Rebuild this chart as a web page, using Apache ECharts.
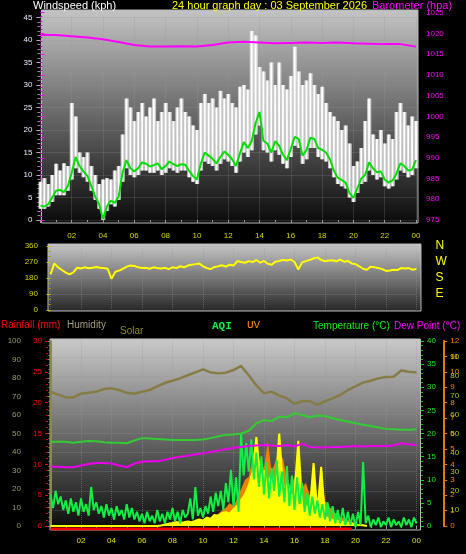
<!DOCTYPE html>
<html><head><meta charset="utf-8">
<script src="https://cdn.jsdelivr.net/npm/echarts@6/dist/echarts.min.js"></script>
<style>html,body{margin:0;padding:0;background:#000;}#c{width:466px;height:554px;}</style>
</head><body><div id="c"></div>
<script>
// ---------- tick labels ----------
const xTickLabels = ['', '02', '04', '06', '08', '10', '12', '14', '16', '18', '20', '22', '00'];
const compassLabels = ['', 'E', 'S', 'W', 'N'];

// ---------- top panel: 15-minute samples (00:00 .. 24:00) ----------
const windAvg = [
  3.2, 3.0, 3.5, 5.0,   6.5, 6.7, 6.2, 7.5,   10.5, 14.0, 12.0, 10.8,  9.8, 7.6, 5.2, 3.5,
  0.2, 3.0, 4.3, 3.8,   5.2, 10.5, 13.3, 11.5, 10.8, 11.5, 12.8, 12.5, 11.9, 12.2, 12.6, 11.3,
  12.0, 13.0, 12.4, 12.0, 12.4, 12.3, 10.9, 9.8, 9.0, 12.5, 15.0, 14.3, 13.6, 12.6, 14.0, 15.2,
  14.5, 13.5, 12.0, 14.8, 17.3, 16.0, 17.5, 21.5, 24.0, 17.6, 17.0, 15.0, 17.5, 16.5, 14.5, 13.3,
  15.8, 18.5, 18.0, 14.3, 15.5, 18.3, 18.0, 16.0, 15.6, 15.0, 13.5, 11.0, 9.4, 8.9, 8.3, 6.0,
  4.9, 7.0, 9.2, 10.0,  12.8, 11.5, 10.6, 10.8, 9.0, 8.3, 8.8, 10.3,  12.6, 12.0, 11.0, 11.2,
  13.3
];
const gustHigh = [
  8.5, 9.3, 8.0, 10.0,  12.5, 11.0, 12.6, 12.0, 26.0, 23.0, 15.0, 14.0, 15.0, 12.0, 10.0, 8.0,
  9.0, 9.3, 9.0, 11.0,  12.0, 19.0, 27.0, 25.0, 22.0, 24.0, 26.0, 23.0, 25.0, 27.0, 22.0, 24.0,
  26.0, 24.0, 22.0, 25.0, 27.0, 24.0, 23.0, 21.0, 20.0, 26.0, 28.0, 26.0, 27.0, 25.0, 28.7, 27.0,
  28.0, 26.0, 25.0, 29.6, 30.0, 29.0, 42.0, 41.0, 34.0, 33.0, 31.0, 35.0, 30.0, 35.0, 30.0, 29.0,
  32.0, 38.5, 33.0, 30.0, 31.0, 32.6, 30.0, 28.0, 29.6, 26.0, 24.0, 23.0, 22.0, 20.0, 21.0, 17.0,
  12.0, 13.0, 16.0, 22.0, 27.0, 19.0, 18.0, 20.0, 17.0, 19.0, 18.0, 24.0, 26.0, 24.0, 21.0, 23.0,
  22.0
];
const gustLow = [
  2.5, 2.5, 3.0, 4.0,   5.5, 5.5, 5.5, 6.5,   9.0, 11.5, 10.5, 9.5,   8.5, 6.5, 4.5, 2.5,
  0.0, 2.0, 3.5, 3.0,   4.5, 8.5, 11.5, 10.0,  9.5, 10.0, 11.0, 11.0, 10.5, 10.5, 11.0, 10.0,
  10.5, 11.5, 11.0, 10.5, 11.0, 11.0, 9.5, 8.5, 8.0, 11.0, 13.0, 12.5, 12.0, 11.0, 12.5, 13.5,
  13.0, 12.0, 10.5, 13.0, 15.0, 14.0, 15.5, 19.0, 21.0, 15.5, 15.0, 13.0, 15.5, 14.5, 12.5, 11.5,
  14.0, 16.5, 16.0, 12.5, 13.5, 16.0, 16.0, 14.0, 13.5, 13.0, 11.5, 9.5,  8.0, 7.5, 7.0, 5.0,
  4.0, 6.0, 8.0, 8.5,   11.0, 10.0, 9.0, 9.5,  7.5, 7.0, 7.5, 9.0,    11.0, 10.5, 9.5, 10.0,
  11.5
];
// hourly barometer (hPa)
const baro = [1019.6, 1019.6, 1019.3, 1019.0, 1018.6, 1017.9, 1017.2, 1016.8, 1016.8, 1016.9,
  1016.8, 1017.2, 1017.8, 1018.0, 1017.8, 1017.6, 1017.7, 1017.8, 1017.7, 1017.8,
  1017.6, 1017.5, 1017.4, 1017.4, 1016.8];

// ---------- middle panel: wind direction, 15-minute samples ----------
const windDir = [
  200, 262, 240, 225,  210, 200, 212, 238,  234, 240, 235, 238,  242, 238, 236, 232,
  175, 215, 222, 232,  244, 250, 248, 240,  236, 238, 232, 240,  236, 233, 238, 230,
  240, 236, 246, 240,  250, 255, 258, 262,  246, 236, 230, 242,  246, 252, 244, 255,
  250, 275, 270, 266,  275, 270, 281, 266,  276, 260, 255, 272,  276, 282, 278, 284,
  270, 228, 268, 275,  282, 290, 296, 282,  274, 278, 280, 274,  284, 272, 276, 262,
  258, 245, 232, 226,  244, 240, 236, 230,  220, 222, 226, 225,  236, 234, 236, 226,
  232
];

// ---------- bottom panel ----------
// 30-minute samples
const humidity = [72.5, 71, 69.5, 69.5, 71.5, 72, 72.6, 74, 74.4, 73.5, 72, 71.5, 72.6, 73.5,
  75.5, 77.3, 78.5, 79.8, 81.5, 83, 84.7, 83, 82.5, 82.9, 84.3, 86.5, 81.5, 76, 71.7, 72.6,
  70.5, 69, 66, 67.5, 67.5, 65.5, 67.5, 69, 70.8, 73.5, 75.5, 77.5, 78.5, 79.8, 80.5, 80.7,
  84, 83.4, 83];
const temperature = [18.2, 18.2, 18.2, 18.0, 18.2, 18.4, 18.3, 18.1, 18.0, 18.0, 17.9, 18.5,
  19.0, 18.9, 18.8, 18.7, 18.6, 18.6, 18.6, 18.6, 18.7, 19.0, 19.4, 19.7, 19.8, 20.0, 20.6,
  22.2, 22.9, 22.7, 23.6, 23.5, 24.4, 24.0, 23.5, 23.9, 23.8, 23.3, 22.9, 22.6, 22.2, 21.9,
  21.6, 21.3, 21.0, 20.9, 20.8, 20.8, 20.9];
const dewPoint = [12.8, 12.8, 12.7, 12.7, 13.1, 13.4, 13.6, 13.6, 13.5, 13.1, 12.7, 13.5, 13.9,
  14.0, 14.0, 14.3, 14.7, 15.0, 15.2, 15.5, 15.7, 16.0, 16.3, 16.6, 16.9, 17.1, 17.3, 17.4,
  17.5, 17.4, 17.3, 17.5, 17.2, 17.8, 17.1, 17.0, 17.0, 17.1, 17.1, 17.2, 17.3, 17.2, 17.3,
  17.3, 17.3, 17.4, 17.9, 17.7, 17.5];
// 10-minute samples
const aqi = [
  18, 11, 20, 13, 17, 10,   15, 8, 16, 9, 14, 7,     16, 9, 13, 7, 22, 10,
  14, 8, 12, 6, 13, 7,      11, 5, 12, 7, 10, 5,     13, 6, 11, 5, 9, 4,
  8, 3, 9, 4, 7, 3,         10, 4, 8, 3, 9, 5,       11, 4, 9, 3, 10, 6,
  8, 16, 5, 22, 7, 11,      6, 12, 8, 17, 9, 19,     12, 20, 10, 24, 14, 31,
  12, 27, 9, 50, 28, 45,    30, 47, 26, 40, 22, 38,  18, 35, 16, 32, 20, 36,
  17, 30, 14, 33, 12, 28,   10, 27, 13, 24, 9, 19,   7, 17, 8, 15, 6, 13,
  5, 14, 4, 12, 3, 10,      3, 11, 2, 9, 2, 8,       1, 9, 2, 35, 3, 7,
  1, 5, 2, 6, 1, 4,         2, 6, 1, 5, 2, 4,        1, 6, 2, 5, 1, 6,
  3
];
// 15-minute samples
const solar = [
  0, 0, 0, 0,  0, 0, 0, 0,  0, 0, 0, 0,  0, 0, 0, 0,  0, 0, 0, 0,  0, 0, 0, 0,  0, 0, 0, 0,
  0, 3, 8, 12,  16, 22, 18, 20,  24, 20, 28, 35,  30, 45, 40, 60,  55, 70, 75, 65,
  90, 110, 140, 170,  220, 290, 480, 260,  300, 240, 270, 220,  500, 200, 230, 160,
  180, 460, 120, 110,  90, 340, 70, 320,  50, 40, 35, 30,  25, 20, 16, 12,  8, 6, 4, 0,
  null, null, null, null, null, null, null, null, null, null, null, null, null
];
const uv = [
  0, 0, 0, 0,  0, 0, 0, 0,  0, 0, 0, 0,  0, 0, 0, 0,  0, 0, 0, 0,  0, 0, 0, 0,
  0, 0, 0, 0,  0, 0, 0, 0,  0, 0, 0, 0,  0, 0, 0.2, 0.4,
  0.3, 0.5, 0.4, 0.6,  0.8, 1.0, 1.2, 1.5,  1.3, 1.8, 2.4, 3.0,  3.2, 4.5, 5.6, 4.0,
  3.8, 5.5, 3.5, 4.2,  4.5, 4.4, 3.0, 2.6,  3.2, 3.5, 2.5, 2.8,  2.0, 2.6, 1.8, 3.4,
  1.6, 1.3, 1.0, 0.8,  0.6, 0.5, 0.4, 0.3,  0.2, 0.1, 0.1, 0,
  null, null, null, null, null, null, null, null, null, null, null, null, null
];
const rainfall = [
  0, 0, 0, 0,  0, 0, 0, 0,  0, 0, 0, 0,  0, 0, 0, 0,  0, 0, 0, 0,  0, 0, 0, 0,  0, 0, 0, 0,
  0, 0, 0, 0,  0, 0, 0, 0,  0, 0, 0, 0,  0, 0, 0, 0,  0, 0, 0, 0,  0, 0, 0, 0,  0, 0, 0, 0,
  0, 0, 0, 0,  0, 0, 0, 0,  0, 0, 0, 0,  0, 0, 0, 0,  0, 0, 0, 0,  0, 0, 0, 0,
  null, null, null, null, null, null, null, null, null, null, null, null, null
];

// ---------- build ----------
const at = (arr, stepH) => arr.map((v, i) => [i * stepH, v]);
const FONT = 'Liberation Sans, Arial, sans-serif';
const MONO = 'Liberation Mono, DejaVu Sans Mono, monospace';
const LBL = 8;

function bgRect(x, y, w, h, c0, c1) {
  return {
    type: 'rect', z: -10, silent: true,
    shape: { x, y, width: w, height: h },
    style: {
      fill: new echarts.graphic.LinearGradient(0, 0, 0, 1, [{ offset: 0, color: c0 }, { offset: 1, color: c1 }]),
      stroke: '#b8b8b8', lineWidth: 1
    }
  };
}
function txt(s, x, y, color, font) {
  return { type: 'text', z: 10, x, y, style: { text: s, fill: color, font: font || ('10px ' + FONT), textVerticalAlign: 'middle' } };
}
const grid = { type: 'dotted', color: 'rgba(150,150,150,0.45)', width: 1 };
const hidX = (gi) => ({ gridIndex: gi, type: 'value', min: 0, max: 24, show: false });

const chart = echarts.init(document.getElementById('c'), null, { renderer: 'canvas' });
chart.setOption({
  backgroundColor: '#000000',
  animation: false,
  graphic: [
    bgRect(41.5, 10, 376.5, 213, '#c4c4c4', '#0a0a0a'),
    bgRect(48, 244, 373, 67, '#c8c8c8', '#262626'),
    bgRect(50, 339, 370.5, 191, '#cacaca', '#0a0a0a'),
    txt('Windspeed (kph)', 33, 5.5, '#ffffff', '11px ' + FONT),
    txt('24 hour graph day : 03 September 2026', 172, 5.5, '#ffff00', '11px ' + FONT),
    txt('Barometer (hpa)', 372, 5.5, '#ff00ff', '11px ' + FONT),
    txt('Rainfall (mm)', 1, 325.5, '#ff0000'),
    txt('Humidity', 67, 325.5, '#a39d7c'),
    txt('Solar', 120, 331, '#8c8c2e'),
    txt('AQI', 212, 326, '#11ee44', 'bold 11px ' + MONO),
    txt('UV', 247, 325.5, '#ff8a1a', '11px ' + MONO),
    txt('Temperature (°C)', 313, 326, '#11ee11'),
    txt('Dew Point (°C)', 394, 326, '#ff00ff')
  ],
  grid: [
    { left: 40.4, top: 17.5, width: 375.6, height: 202.5, outerBoundsMode: 'none' },
    { left: 40.4, top: 12.6, width: 375.6, height: 207.4, outerBoundsMode: 'none' },
    { left: 50.5, top: 246, width: 366, height: 64, outerBoundsMode: 'none' },
    { left: 50.5, top: 341, width: 366, height: 185, outerBoundsMode: 'none' },
    { left: 50.5, top: 338, width: 366, height: 191, outerBoundsMode: 'none' }
  ],
  xAxis: [
    { gridIndex: 0, type: 'value', min: 0, max: 24, interval: 2, offset: 2.5,
      axisLine: { show: false },
      axisTick: { show: true, length: 3, lineStyle: { color: '#9a9a9a' } },
      minorTick: { show: true, splitNumber: 2, length: 2, lineStyle: { color: '#9a9a9a' } },
      axisLabel: { color: '#d6d600', fontSize: LBL, fontFamily: FONT, margin: 9, formatter: v => xTickLabels[v / 2] },
      splitLine: { show: true, lineStyle: grid } },
    hidX(1),
    { gridIndex: 2, type: 'value', min: 0, max: 24, interval: 2,
      axisLine: { show: false }, axisTick: { show: false }, axisLabel: { show: false },
      splitLine: { show: true, lineStyle: grid } },
    { gridIndex: 3, type: 'value', min: 0, max: 24, interval: 2, offset: 4,
      axisLine: { show: false },
      axisTick: { show: true, length: 3, lineStyle: { color: '#9a9a9a' } },
      minorTick: { show: true, splitNumber: 2, length: 2, lineStyle: { color: '#9a9a9a' } },
      axisLabel: { color: '#e0e000', fontSize: LBL, fontFamily: FONT, margin: 7, formatter: v => xTickLabels[v / 2] },
      splitLine: { show: true, lineStyle: grid } },
    hidX(4)
  ],
  yAxis: [
    // 0 windspeed
    { gridIndex: 0, type: 'value', min: 0, max: 45, interval: 5, position: 'left',
      axisLine: { show: false },
      axisTick: { show: true, length: 4, lineStyle: { color: '#b0b0b0' } },
      minorTick: { show: true, splitNumber: 5, length: 3, lineStyle: { color: '#8a8a8a' } },
      axisLabel: { color: '#e8eeff', fontSize: LBL, fontFamily: FONT, margin: 8 },
      splitLine: { show: true, lineStyle: grid } },
    // 1 barometer
    { gridIndex: 1, type: 'value', min: 975, max: 1025, interval: 5, position: 'right', offset: 2,
      axisLine: { show: false },
      axisTick: { show: true, length: 4, lineStyle: { color: '#ff00ff' } },
      minorTick: { show: true, splitNumber: 5, length: 2, lineStyle: { color: '#cc00cc' } },
      axisLabel: { color: '#ff00ff', fontSize: LBL, fontFamily: FONT, margin: 8, formatter: v => String(v) },
      splitLine: { show: false } },
    // 2 wind direction
    { gridIndex: 2, type: 'value', min: 0, max: 360, interval: 90, position: 'left', offset: 2.5,
      axisLine: { show: false },
      axisTick: { show: true, length: 4, lineStyle: { color: '#c8c800' } },
      minorTick: { show: true, splitNumber: 3, length: 2, lineStyle: { color: '#a0a000' } },
      axisLabel: { color: '#d6d600', fontSize: LBL, fontFamily: FONT, margin: 10 },
      splitLine: { show: true, lineStyle: grid } },
    // 3 compass letters
    { gridIndex: 2, type: 'value', min: 0, max: 360, interval: 90, position: 'right',
      axisLine: { show: false }, axisTick: { show: false }, splitLine: { show: false },
      axisLabel: { color: '#ffff00', fontSize: 12, fontFamily: FONT, margin: 19, formatter: v => compassLabels[v / 90] } },
    // 4 humidity
    { gridIndex: 3, type: 'value', min: 0, max: 100, interval: 10, position: 'left', offset: 20.5,
      axisLine: { show: true, lineStyle: { color: '#8c8a4c', width: 2 } },
      axisTick: { show: true, length: 4, lineStyle: { color: '#8c8a4c' } },
      minorTick: { show: true, splitNumber: 4, length: 2, lineStyle: { color: '#8c8a4c' } },
      axisLabel: { color: '#9e9a6c', fontSize: LBL, fontFamily: FONT, margin: 9 },
      splitLine: { show: false } },
    // 5 rainfall
    { gridIndex: 3, type: 'value', min: 0, max: 30, interval: 5, position: 'left', offset: 2.5,
      axisLine: { show: false },
      axisTick: { show: true, length: 3, lineStyle: { color: '#ff0000' } },
      minorTick: { show: true, splitNumber: 5, length: 2, lineStyle: { color: '#dd0000' } },
      axisLabel: { color: '#ff0000', fontSize: LBL, fontFamily: FONT, margin: 6 },
      splitLine: { show: false } },
    // 6 temperature
    { gridIndex: 3, type: 'value', min: 0, max: 40, interval: 5, position: 'right', offset: 4.5,
      axisLine: { show: false },
      axisTick: { show: true, length: 3, lineStyle: { color: '#00dd00' } },
      minorTick: { show: true, splitNumber: 5, length: 2, lineStyle: { color: '#00bb00' } },
      axisLabel: { color: '#11ee11', fontSize: LBL, fontFamily: FONT, margin: 6 },
      splitLine: { show: false } },
    // 7 UV
    { gridIndex: 3, type: 'value', min: 0, max: 12, interval: 1, position: 'right', offset: 26.8,
      axisLine: { show: true, lineStyle: { color: '#e07a00', width: 2 } },
      axisTick: { show: true, length: 4, lineStyle: { color: '#e07a00' } },
      minorTick: { show: true, splitNumber: 2, length: 2, lineStyle: { color: '#e07a00' } },
      axisLabel: { color: '#ff8000', fontSize: LBL, fontFamily: FONT, margin: 7 },
      splitLine: { show: false } },
    // 8 solar (hidden scale)
    { gridIndex: 3, type: 'value', min: 0, max: 1000, show: false },
    // 9 AQI
    { gridIndex: 4, type: 'value', min: 0, max: 100, interval: 10, position: 'right', offset: 26.8,
      axisLine: { show: false }, axisTick: { show: false },
      axisLabel: { color: '#b4c800', fontSize: LBL, fontFamily: FONT, margin: 7, formatter: v => (v >= 10 && v <= 90) ? String(v) : '' },
      splitLine: { show: true, lineStyle: grid } },
    // 10 rainfall baseline (hidden)
    { gridIndex: 4, type: 'value', min: 0, max: 30, show: false }
  ],
  series: [
    { name: 'Gust', type: 'custom', xAxisIndex: 0, yAxisIndex: 0, z: 2,
      data: gustHigh.map((v, i) => [i * 0.25, gustLow[i], v]),
      encode: { x: 0, y: [1, 2] },
      renderItem: (params, api) => {
        const lo = api.coord([api.value(0), api.value(1)]);
        const hi = api.coord([api.value(0), api.value(2)]);
        const w = api.size([0.25, 0])[0];
        return { type: 'group', children: [
          { type: 'rect', shape: { x: lo[0] - w / 2, y: hi[1], width: w + 0.3, height: lo[1] - hi[1] },
            style: { fill: 'rgba(225,225,225,0.8)' } },
          { type: 'rect', shape: { x: lo[0] - 0.9, y: hi[1], width: 1.8, height: lo[1] - hi[1] },
            style: { fill: '#ffffff' } }
        ] };
      } },
    { name: 'Wind', type: 'line', xAxisIndex: 0, yAxisIndex: 0, z: 4, data: at(windAvg, 0.25),
      showSymbol: false, lineStyle: { color: '#00dd00', width: 2 } },
    { name: 'Barometer', type: 'line', xAxisIndex: 1, yAxisIndex: 1, z: 4, data: at(baro, 1),
      showSymbol: false, lineStyle: { color: '#ff00ff', width: 2 } },
    { name: 'Direction', type: 'line', xAxisIndex: 2, yAxisIndex: 2, z: 4, data: at(windDir, 0.25),
      showSymbol: false, lineStyle: { color: '#ffff00', width: 2 } },
    { name: 'UV', type: 'line', xAxisIndex: 3, yAxisIndex: 7, z: 2, data: at(uv, 0.25),
      showSymbol: false, lineStyle: { width: 0 }, areaStyle: { color: '#f08000', opacity: 1 } },
    { name: 'Solar', type: 'line', xAxisIndex: 3, yAxisIndex: 8, z: 3, data: at(solar, 0.25),
      showSymbol: false, lineStyle: { color: '#ffff00', width: 2 }, areaStyle: { color: '#ffff00', opacity: 1 } },
    { name: 'AQI', type: 'line', xAxisIndex: 4, yAxisIndex: 9, z: 4, data: at(aqi, 1 / 6),
      showSymbol: false, lineStyle: { color: '#11ee44', width: 2 } },
    { name: 'Humidity', type: 'line', xAxisIndex: 3, yAxisIndex: 4, z: 5, data: at(humidity, 0.5),
      showSymbol: false, lineStyle: { color: '#857d45', width: 2.5 } },
    { name: 'Temperature', type: 'line', xAxisIndex: 3, yAxisIndex: 6, z: 5, data: at(temperature, 0.5),
      showSymbol: false, lineStyle: { color: '#33cc33', width: 2 } },
    { name: 'Dew Point', type: 'line', xAxisIndex: 3, yAxisIndex: 6, z: 5, data: at(dewPoint, 0.5),
      showSymbol: false, lineStyle: { color: '#ee00ee', width: 2 } },
    { name: 'Rainfall', type: 'line', xAxisIndex: 4, yAxisIndex: 10, z: 3, data: at(rainfall, 0.25),
      showSymbol: false, lineStyle: { color: '#ff0000', width: 3 } }
  ]
});
</script>
</body></html>
